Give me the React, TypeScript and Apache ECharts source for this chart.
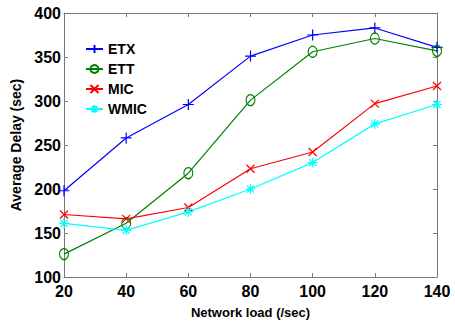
import React, { useEffect, useRef } from "react";
import * as echarts from "echarts";

const loads = [20, 40, 60, 80, 100, 120, 140];
const etx = [198, 258, 296, 351, 375, 383, 361];
const ett = [126, 161, 218, 301, 356, 371, 357];
const mic = [171, 166, 179, 223, 242, 297, 317];
const wmic = [161, 153, 174, 200, 230, 274, 296];
const seriesNames = ["ETX", "ETT", "MIC", "WMIC"];

const PLUS = "path://M5,0L5,10M0,5L10,5";
const CROSS = "path://M0,0L10,10M10,0L0,10";
const STAR = "path://M5,0L5,10M0,5L10,5M1.5,1.5L8.5,8.5M8.5,1.5L1.5,8.5";

const FONT = "Liberation Sans";

export default function App() {
  const ref = useRef<HTMLDivElement>(null);
  useEffect(() => {
    const chart = echarts.init(ref.current!, null, { renderer: "svg" });
    const mk = (name: string, vals: number[], color: string, symbol: string, size: number | number[]) => ({
      name,
      type: "line",
      data: loads.map((x, i) => [x, vals[i]]),
      symbol,
      symbolSize: size,
      showSymbol: true,
      lineStyle: { color, width: 1.2 },
      itemStyle: { color: "rgba(0,0,0,0)", borderColor: color, borderWidth: 1.2 },
      emphasis: { disabled: true },
      z: 3,
    });
    const axisCommon = {
      type: "value",
      axisLine: { show: true, lineStyle: { color: "#777", width: 1 } },
      axisTick: { show: true, inside: true, length: 4, lineStyle: { color: "#777" } },
      splitLine: { show: false },
    };
    chart.setOption({
      animation: false,
      backgroundColor: "#fff",
      grid: { left: 64, right: 18, top: 13, bottom: 52, containLabel: false },
      legend: {
        data: seriesNames,
        orient: "vertical",
        left: 80,
        top: 36,
        itemWidth: 17,
        itemHeight: 10,
        itemGap: 4,
        textStyle: { fontFamily: FONT, fontWeight: "bold", fontSize: 14, lineHeight: 16, color: "#000" },
      },
      xAxis: [
        {
          ...axisCommon,
          min: 20,
          max: 140,
          interval: 20,
          name: "Network load (/sec)",
          nameLocation: "middle",
          nameGap: 29,
          nameTextStyle: { fontFamily: FONT, fontWeight: "bold", fontSize: 13, color: "#000" },
          axisLabel: { fontFamily: FONT, fontWeight: "bold", fontSize: 16, color: "#000", margin: 6 },
        },
        {
          ...axisCommon,
          position: "top",
          min: 20,
          max: 140,
          interval: 20,
          axisLabel: { show: false },
        },
      ],
      yAxis: [
        {
          ...axisCommon,
          min: 100,
          max: 400,
          interval: 50,
          name: "Average Delay (sec)",
          nameLocation: "middle",
          nameGap: 37,
          nameTextStyle: { fontFamily: FONT, fontWeight: "bold", fontSize: 14, color: "#000" },
          axisLabel: { fontFamily: FONT, fontWeight: "bold", fontSize: 16, color: "#000", margin: 3 },
        },
        {
          ...axisCommon,
          position: "right",
          min: 100,
          max: 400,
          interval: 50,
          axisLabel: { show: false },
        },
      ],
      series: [
        mk("ETX", etx, "#0000ff", PLUS, 11),
        mk("ETT", ett, "#008000", "circle", [9, 11]),
        mk("MIC", mic, "#ff0000", CROSS, 8),
        mk("WMIC", wmic, "#00ffff", STAR, 10),
      ],
    });
    return () => chart.dispose();
  }, []);
  return <div ref={ref} style={{ width: 455, height: 329, position: "absolute", left: 0, top: 0 }} />;
}
